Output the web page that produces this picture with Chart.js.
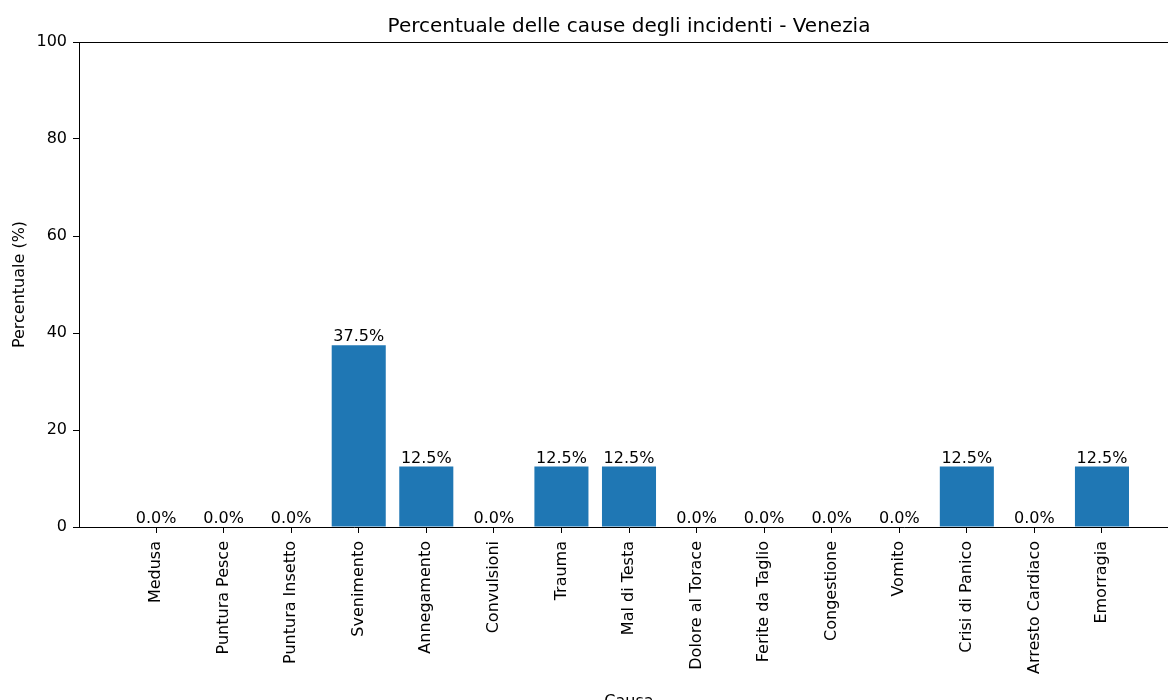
<!DOCTYPE html>
<html>
<head>
<meta charset="utf-8">
<script src="https://cdn.jsdelivr.net/npm/chart.js@4.4.1/dist/chart.umd.min.js"></script>
<style>
  html, body { margin: 0; padding: 0; overflow: hidden; background: #fff; }
  #wrap { width: 1179px; height: 712px; position: relative; }
</style>
</head>
<body>
<div id="wrap"><canvas id="chart"></canvas></div>
<script>
const CAUSE = [
  'Medusa', 'Puntura Pesce', 'Puntura Insetto', 'Svenimento', 'Annegamento',
  'Convulsioni', 'Trauma', 'Mal di Testa', 'Dolore al Torace', 'Ferite da Taglio',
  'Congestione', 'Vomito', 'Crisi di Panico', 'Arresto Cardiaco', 'Emorragia'
];
const PERCENTUALI = [0, 0, 0, 37.5, 12.5, 0, 12.5, 12.5, 0, 0, 0, 0, 12.5, 0, 12.5];
const Y_TICKS = [0, 20, 40, 60, 80, 100];

const FONT = 'DejaVu Sans';
const BLUE = '#1f77b4';

// etichette sopra le barre + spina superiore
const barLabels = {
  id: 'barLabels',
  afterDatasetsDraw(chart) {
    const ctx = chart.ctx;
    const meta = chart.getDatasetMeta(0);
    ctx.save();
    ctx.font = '16px "' + FONT + '"';
    ctx.fillStyle = '#000';
    ctx.textAlign = 'center';
    ctx.textBaseline = 'bottom';
    meta.data.forEach((bar, i) => {
      ctx.fillText(PERCENTUALI[i].toFixed(1) + '%', bar.x, bar.y);
    });
    const a = chart.chartArea;
    ctx.strokeStyle = '#000';
    ctx.lineWidth = 1;
    ctx.beginPath();
    ctx.moveTo(a.left, a.top + 0.5);
    ctx.lineTo(a.right, a.top + 0.5);
    ctx.stroke();
    ctx.restore();
  }
};

new Chart(document.getElementById('chart'), {
  type: 'bar',
  data: {
    datasets: [{
      data: PERCENTUALI.map((v, i) => ({ x: i, y: v })),
      backgroundColor: BLUE,
      borderWidth: 0,
      barPercentage: 0.8,
      categoryPercentage: 1.0,
    }]
  },
  options: {
    responsive: true,
    maintainAspectRatio: false,
    animation: false,
    layout: { padding: 0 },
    plugins: {
      legend: { display: false },
      tooltip: { enabled: false },
      title: {
        display: true,
        fullSize: false,
        text: 'Percentuale delle cause degli incidenti - Venezia',
        color: '#000',
        font: { family: FONT, size: 20, weight: 'normal' },
        padding: { top: 15, bottom: 3 },
      }
    },
    scales: {
      x: {
        type: 'linear',
        min: -1.14,
        max: CAUSE.length - 1 + 1.14,
        offset: false,
        afterBuildTicks: s => { s.ticks = CAUSE.map((c, i) => ({ value: i })); },
        afterFit: s => { s.height = 185; },
        grid: { display: true, drawOnChartArea: false, offset: false, tickLength: 6, color: '#000' },
        border: { display: true, color: '#000', width: 1 },
        ticks: {
          autoSkip: false,
          minRotation: 90,
          maxRotation: 90,
          padding: 8,
          color: '#000',
          font: { family: FONT, size: 16 },
          callback: v => CAUSE[v] ?? '',
        },
        title: {
          display: true,
          text: 'Causa',
          color: '#000',
          font: { family: FONT, size: 16 },
          padding: { top: 0, bottom: 1 },
        }
      },
      y: {
        min: 0,
        max: 100,
        afterBuildTicks: s => { s.ticks = Y_TICKS.map(v => ({ value: v })); },
        afterFit: s => { s.width = 79; },
        grid: { display: true, drawOnChartArea: false, tickLength: 6, color: '#000' },
        border: { display: true, color: '#000', width: 1 },
        ticks: {
          padding: 6,
          color: '#000',
          font: { family: FONT, size: 16 },
        },
        title: {
          display: true,
          text: 'Percentuale (%)',
          color: '#000',
          font: { family: FONT, size: 16 },
          padding: { top: 10, bottom: 0 },
        }
      }
    }
  },
  plugins: [barLabels]
});
</script>
</body>
</html>
